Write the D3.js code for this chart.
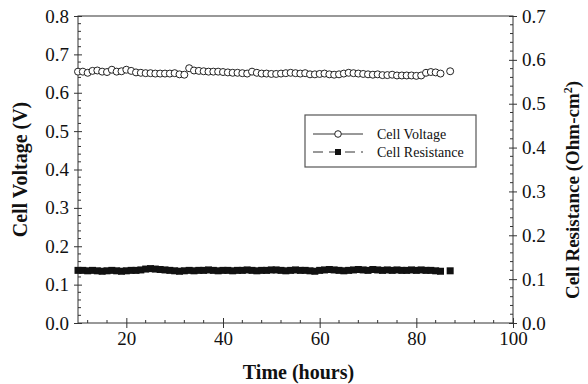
<!DOCTYPE html>
<html>
<head>
<meta charset="utf-8">
<script src="https://cdn.jsdelivr.net/npm/d3@7"></script>
<style>
  body { margin: 0; background: #fff; }
  svg text { font-family: "Liberation Serif", "Times New Roman", Times, serif; fill: #111; }
</style>
</head>
<body>
<script>
// Chart size
const width = 588, height = 384;
const margin = { top: 16, right: 75, bottom: 61, left: 78 };
const serif = "'Liberation Serif', 'Times New Roman', Times, serif";

// Time in hours (one reading per hour, last one at 87)
const hours = [10, 11, 12, 13, 14, 15, 16, 17, 18, 19, 20, 21, 22, 23, 24, 25, 26, 27, 28, 29,
  30, 31, 32, 33, 34, 35, 36, 37, 38, 39, 40, 41, 42, 43, 44, 45, 46, 47, 48, 49,
  50, 51, 52, 53, 54, 55, 56, 57, 58, 59, 60, 61, 62, 63, 64, 65, 66, 67, 68, 69,
  70, 71, 72, 73, 74, 75, 76, 77, 78, 79, 80, 81, 82, 83, 84, 85, 87];

// Cell voltage (V)
const voltage = [0.655, 0.655, 0.652, 0.657, 0.658, 0.655, 0.654, 0.660, 0.655, 0.656,
  0.660, 0.657, 0.653, 0.652, 0.651, 0.651, 0.650, 0.650, 0.650, 0.650,
  0.651, 0.648, 0.647, 0.664, 0.658, 0.657, 0.656, 0.655, 0.655, 0.655,
  0.654, 0.653, 0.652, 0.652, 0.651, 0.650, 0.655, 0.652, 0.650, 0.650,
  0.649, 0.649, 0.650, 0.651, 0.652, 0.651, 0.650, 0.651, 0.648, 0.648,
  0.649, 0.650, 0.648, 0.647, 0.648, 0.650, 0.652, 0.651, 0.650, 0.649,
  0.648, 0.647, 0.648, 0.646, 0.646, 0.647, 0.645, 0.645, 0.645, 0.645,
  0.644, 0.645, 0.652, 0.654, 0.653, 0.650, 0.656];

// Cell resistance (Ohm-cm2)
const resistance = [0.120, 0.120, 0.119, 0.120, 0.119, 0.118, 0.119, 0.120, 0.119, 0.118,
  0.119, 0.120, 0.120, 0.121, 0.123, 0.124, 0.123, 0.122, 0.121, 0.120,
  0.119, 0.118, 0.119, 0.120, 0.119, 0.120, 0.120, 0.121, 0.120, 0.119,
  0.120, 0.120, 0.119, 0.120, 0.120, 0.121, 0.120, 0.119, 0.120, 0.120,
  0.121, 0.121, 0.120, 0.119, 0.120, 0.121, 0.120, 0.120, 0.119, 0.118,
  0.120, 0.121, 0.122, 0.121, 0.120, 0.119, 0.120, 0.121, 0.122, 0.121,
  0.120, 0.122, 0.121, 0.120, 0.121, 0.120, 0.121, 0.120, 0.120, 0.121,
  0.120, 0.121, 0.120, 0.120, 0.119, 0.118, 0.119];

const xTicks = [20, 40, 60, 80, 100];
const yLeftTicks = [0, 0.1, 0.2, 0.3, 0.4, 0.5, 0.6, 0.7, 0.8];
const yRightTicks = [0, 0.1, 0.2, 0.3, 0.4, 0.5, 0.6, 0.7];

const svg = d3.select("body").append("svg")
    .attr("width", width)
    .attr("height", height)
    .attr("font-family", serif);

const x = d3.scaleLinear().domain([10, 100]).range([margin.left, width - margin.right]);
const yL = d3.scaleLinear().domain([0, 0.8]).range([height - margin.bottom, margin.top]);
const yR = d3.scaleLinear().domain([0, 0.7]).range([height - margin.bottom, margin.top]);

const x0 = margin.left, x1 = width - margin.right;
const y0 = height - margin.bottom, y1 = margin.top;

// Frame
svg.append("rect")
    .attr("x", x0).attr("y", y1)
    .attr("width", x1 - x0).attr("height", y0 - y1)
    .attr("fill", "none").attr("stroke", "#333").attr("stroke-width", 1);

// Minor ticks helper
function minor(g, vals, fn) {
  g.selectAll(null).data(vals).enter().append("line")
      .each(function(d) { fn(d3.select(this), d); })
      .attr("stroke", "#333");
}

function styleAxis(g) {
  g.attr("font-family", serif).attr("font-size", 19);
  g.select(".domain").remove();
  g.selectAll(".tick line").attr("stroke", "#333");
  g.selectAll(".tick text").attr("fill", "#111");
}

// Bottom axis
const gx = svg.append("g").attr("transform", `translate(0,${y0})`)
    .call(d3.axisBottom(x).tickValues(xTicks).tickSize(5).tickPadding(4));
styleAxis(gx);
gx.selectAll(".tick line").attr("y1", -5);
minor(svg.append("g"), d3.range(12, 100, 4).filter(v => v % 20 !== 0),
  (l, d) => l.attr("x1", x(d)).attr("x2", x(d)).attr("y1", y0).attr("y2", y0 - 3));

// Left axis
const gl = svg.append("g").attr("transform", `translate(${x0},0)`)
    .call(d3.axisLeft(yL).tickValues(yLeftTicks).tickFormat(d3.format(".1f")).tickSize(4).tickPadding(5));
styleAxis(gl);
gl.selectAll(".tick line").attr("x1", 4);
minor(svg.append("g"), d3.range(0.02, 0.8, 0.02).filter(v => Math.abs(v * 10 - Math.round(v * 10)) > 1e-6),
  (l, d) => l.attr("x1", x0).attr("x2", x0 + 3).attr("y1", yL(d)).attr("y2", yL(d)));

// Right axis
const gr = svg.append("g").attr("transform", `translate(${x1},0)`)
    .call(d3.axisRight(yR).tickValues(yRightTicks).tickFormat(d3.format(".1f")).tickSize(4).tickPadding(5));
styleAxis(gr);
gr.selectAll(".tick line").attr("x1", -4);
minor(svg.append("g"), d3.range(0.02, 0.7, 0.02).filter(v => Math.abs(v * 10 - Math.round(v * 10)) > 1e-6),
  (l, d) => l.attr("x1", x1).attr("x2", x1 - 3).attr("y1", yR(d)).attr("y2", yR(d)));

// Axis titles
svg.append("text")
    .attr("x", (x0 + x1) / 2 + 3).attr("y", 379)
    .attr("text-anchor", "middle").attr("font-size", 20).attr("font-weight", "bold")
    .text("Time (hours)");

svg.append("text")
    .attr("transform", `translate(27,${(y0 + y1) / 2}) rotate(-90)`)
    .attr("text-anchor", "middle").attr("font-size", 20).attr("font-weight", "bold")
    .text("Cell Voltage (V)");

const rt = svg.append("text")
    .attr("transform", `translate(579,190) rotate(-90)`)
    .attr("text-anchor", "middle").attr("font-size", 19).attr("font-weight", "bold");
rt.append("tspan").text("Cell Resistance (Ohm-cm");
rt.append("tspan").attr("font-size", 12).attr("dy", -7).text("2");
rt.append("tspan").attr("dy", 7).text(")");

// Resistance squares
svg.append("g").selectAll("rect")
    .data(hours.map((h, i) => [h, resistance[i]]))
    .enter().append("rect")
    .attr("x", d => x(d[0]) - 3.5).attr("y", d => yR(d[1]) - 3.5)
    .attr("width", 7).attr("height", 7)
    .attr("fill", "#111");

// Voltage circles
svg.append("g").selectAll("circle")
    .data(hours.map((h, i) => [h, voltage[i]]))
    .enter().append("circle")
    .attr("cx", d => x(d[0])).attr("cy", d => yL(d[1]))
    .attr("r", 3.5)
    .attr("fill", "#fff").attr("stroke", "#222").attr("stroke-width", 1);

// Legend
const lg = svg.append("g");
lg.append("rect")
    .attr("x", 305).attr("y", 115).attr("width", 171).attr("height", 52)
    .attr("fill", "#fff").attr("stroke", "#555").attr("stroke-width", 1.2);
lg.append("line").attr("x1", 313).attr("x2", 363).attr("y1", 134).attr("y2", 134)
    .attr("stroke", "#333");
lg.append("circle").attr("cx", 338).attr("cy", 134).attr("r", 3.3)
    .attr("fill", "#fff").attr("stroke", "#222");
lg.append("text").attr("x", 377).attr("y", 139).attr("font-size", 14).text("Cell Voltage");
lg.append("line").attr("x1", 313).attr("x2", 363).attr("y1", 152).attr("y2", 152)
    .attr("stroke", "#333").attr("stroke-dasharray", "10,6");
lg.append("rect").attr("x", 335).attr("y", 149).attr("width", 6).attr("height", 6)
    .attr("fill", "#111");
lg.append("text").attr("x", 377).attr("y", 157).attr("font-size", 14).text("Cell Resistance");
</script>
</body>
</html>
